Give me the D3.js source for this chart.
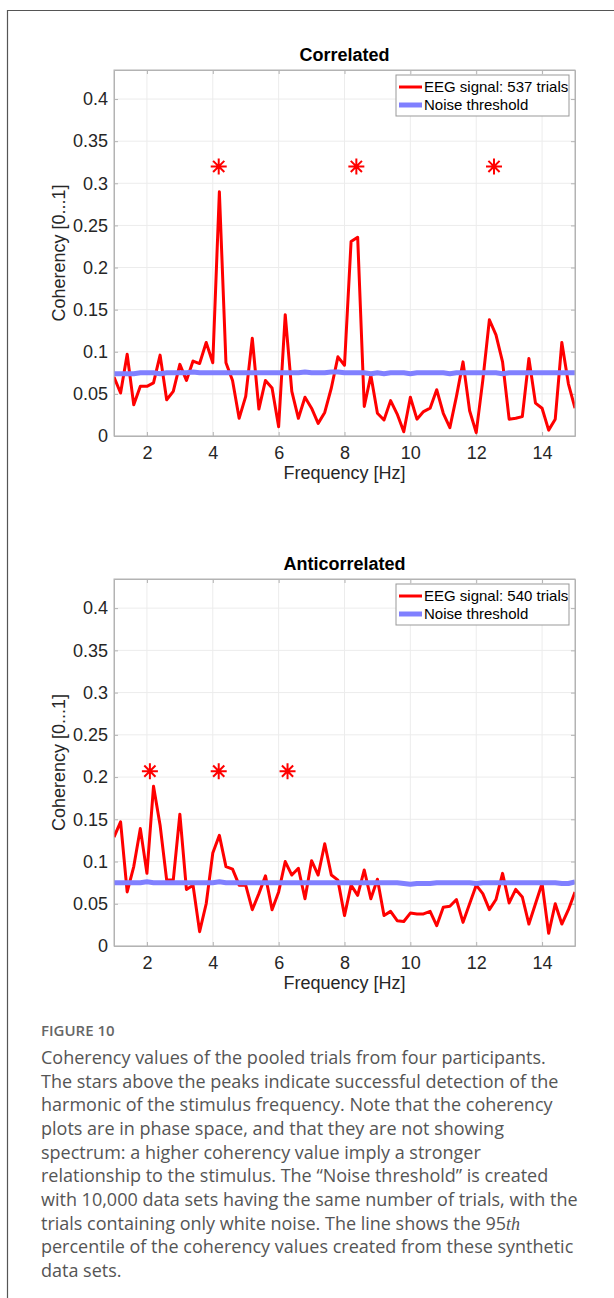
<!DOCTYPE html>
<html>
<head>
<meta charset="utf-8">
<script src="https://cdn.jsdelivr.net/npm/d3@7"></script>
<style>
  body { margin: 0; background: #fff; }
  svg { display: block; }
  .axis text { font-family: "Liberation Sans", Arial, sans-serif; font-size: 18px; fill: #262626; }
  .axis path, .axis line { stroke: #b3b3b3; }
</style>
</head>
<body>
<script>
// frequency bins (Hz)
const freqs = [
  1.0, 1.2, 1.4, 1.6, 1.8, 2.0, 2.2, 2.4, 2.6, 2.8,
  3.0, 3.2, 3.4, 3.6, 3.8, 4.0, 4.2, 4.4, 4.6, 4.8,
  5.0, 5.2, 5.4, 5.6, 5.8, 6.0, 6.2, 6.4, 6.6, 6.8,
  7.0, 7.2, 7.4, 7.6, 7.8, 8.0, 8.2, 8.4, 8.6, 8.8,
  9.0, 9.2, 9.4, 9.6, 9.8, 10.0, 10.2, 10.4, 10.6, 10.8,
  11.0, 11.2, 11.4, 11.6, 11.8, 12.0, 12.2, 12.4, 12.6, 12.8,
  13.0, 13.2, 13.4, 13.6, 13.8, 14.0, 14.2, 14.4, 14.6, 14.8,
  15.0
];

const eegCorr = [
  0.070, 0.051, 0.097, 0.037, 0.059, 0.059, 0.063, 0.096, 0.043, 0.053,
  0.085, 0.066, 0.089, 0.086, 0.111, 0.087, 0.290, 0.087, 0.066, 0.021,
  0.047, 0.116, 0.032, 0.066, 0.057, 0.011, 0.144, 0.053, 0.021, 0.046,
  0.033, 0.015, 0.028, 0.057, 0.094, 0.084, 0.231, 0.236, 0.035, 0.072,
  0.027, 0.019, 0.042, 0.026, 0.005, 0.046, 0.020, 0.029, 0.033, 0.055,
  0.027, 0.010, 0.047, 0.088, 0.030, 0.004, 0.066, 0.138, 0.120, 0.088,
  0.020, 0.021, 0.023, 0.092, 0.039, 0.033, 0.007, 0.020, 0.111, 0.062,
  0.033
];

const noiseCorr = [
  0.074, 0.074, 0.074, 0.074, 0.075, 0.075, 0.075, 0.074, 0.075, 0.075,
  0.075, 0.075, 0.076, 0.075, 0.075, 0.075, 0.075, 0.075, 0.075, 0.075,
  0.075, 0.075, 0.075, 0.075, 0.075, 0.075, 0.075, 0.075, 0.075, 0.076,
  0.075, 0.075, 0.075, 0.076, 0.076, 0.075, 0.075, 0.075, 0.075, 0.074,
  0.075, 0.074, 0.075, 0.075, 0.075, 0.074, 0.075, 0.075, 0.075, 0.075,
  0.075, 0.074, 0.075, 0.075, 0.075, 0.075, 0.075, 0.075, 0.075, 0.074,
  0.075, 0.075, 0.075, 0.075, 0.075, 0.075, 0.075, 0.075, 0.075, 0.075,
  0.075
];

const eegAnti = [
  0.129, 0.147, 0.064, 0.094, 0.139, 0.086, 0.189, 0.143, 0.078, 0.078,
  0.156, 0.067, 0.072, 0.017, 0.050, 0.110, 0.131, 0.094, 0.091, 0.072,
  0.072, 0.043, 0.062, 0.083, 0.043, 0.064, 0.100, 0.084, 0.092, 0.056,
  0.101, 0.084, 0.121, 0.084, 0.078, 0.036, 0.072, 0.060, 0.090, 0.056,
  0.079, 0.036, 0.041, 0.030, 0.029, 0.039, 0.038, 0.038, 0.041, 0.024,
  0.046, 0.047, 0.055, 0.028, 0.050, 0.072, 0.062, 0.043, 0.055, 0.086,
  0.051, 0.067, 0.058, 0.026, 0.050, 0.074, 0.015, 0.050, 0.026, 0.043,
  0.064
];

const noiseAnti = [
  0.075, 0.075, 0.075, 0.075, 0.075, 0.076, 0.075, 0.075, 0.075, 0.075,
  0.075, 0.075, 0.075, 0.075, 0.075, 0.075, 0.076, 0.075, 0.075, 0.075,
  0.075, 0.075, 0.075, 0.075, 0.075, 0.075, 0.075, 0.075, 0.075, 0.075,
  0.075, 0.075, 0.075, 0.075, 0.075, 0.075, 0.075, 0.075, 0.075, 0.075,
  0.075, 0.075, 0.075, 0.075, 0.074, 0.073, 0.074, 0.074, 0.074, 0.075,
  0.075, 0.075, 0.075, 0.075, 0.075, 0.074, 0.075, 0.075, 0.075, 0.075,
  0.075, 0.075, 0.075, 0.075, 0.075, 0.075, 0.075, 0.075, 0.074, 0.074,
  0.076
];

// detected harmonics (stars)
const starsCorr = [4.18, 8.36, 12.54];
const starsAnti = [2.09, 4.18, 6.27];
const starLevelCorr = 0.32;
const starLevelAnti = 0.207;

const xTicks = [2, 4, 6, 8, 10, 12, 14];
const yTicks = [0, 0.05, 0.1, 0.15, 0.2, 0.25, 0.3, 0.35, 0.4];

const caption = [
  "Coherency values of the pooled trials from four participants.",
  "The stars above the peaks indicate successful detection of the",
  "harmonic of the stimulus frequency. Note that the coherency",
  "plots are in phase space, and that they are not showing",
  "spectrum: a higher coherency value imply a stronger",
  "relationship to the stimulus. The \u201cNoise threshold\u201d is created",
  "with 10,000 data sets having the same number of trials, with the",
  "trials containing only white noise. The line shows the 95",
  "percentile of the coherency values created from these synthetic",
  "data sets."
];

const W = 614, H = 1298;
const svg = d3.select("body").append("svg")
  .attr("width", W)
  .attr("height", H);

// page frame (left + top rule)
svg.append("path")
  .attr("d", `M7.5,${H} V10.5 H${W}`)
  .attr("fill", "none")
  .attr("stroke", "#555")
  .attr("stroke-width", 1.2);

function drawPanel(p) {
  const left = 114, right = 575;
  const x = d3.scaleLinear().domain([1, 15]).range([left, right]);
  const y = d3.scaleLinear().domain([0, 0.4345]).range([p.bottom, p.top]);
  const g = svg.append("g");

  // grid
  g.append("g").selectAll("line").data(xTicks).join("line")
    .attr("x1", d => x(d)).attr("x2", d => x(d))
    .attr("y1", p.top).attr("y2", p.bottom)
    .attr("stroke", "#ececec");
  g.append("g").selectAll("line").data(yTicks).join("line")
    .attr("x1", left).attr("x2", right)
    .attr("y1", d => y(d)).attr("y2", d => y(d))
    .attr("stroke", "#ececec");

  // axes, ticks pointing inward
  g.append("g").attr("class", "axis")
    .attr("transform", `translate(0,${p.bottom})`)
    .call(d3.axisBottom(x).tickValues(xTicks).tickSizeInner(-4).tickSizeOuter(0).tickPadding(10))
    .call(a => a.selectAll("text").attr("dy", "0.71em"));
  g.append("g").attr("class", "axis")
    .attr("transform", `translate(0,${p.top})`)
    .call(d3.axisTop(x).tickValues(xTicks).tickSizeInner(-4).tickSizeOuter(0).tickFormat(""));
  g.append("g").attr("class", "axis")
    .attr("transform", `translate(${left},0)`)
    .call(d3.axisLeft(y).tickValues(yTicks).tickSizeInner(-4).tickSizeOuter(0).tickPadding(6).tickFormat(d3.format("")));
  g.append("g").attr("class", "axis")
    .attr("transform", `translate(${right},0)`)
    .call(d3.axisRight(y).tickValues(yTicks).tickSizeInner(-4).tickSizeOuter(0).tickFormat(""));

  const pts = (vals) => freqs.map((f, i) => ({ f, v: vals[i] }));
  const line = d3.line().x(d => x(d.f)).y(d => y(d.v));

  const clip = "clip" + p.top;
  g.append("clipPath").attr("id", clip).append("rect")
    .attr("x", left).attr("y", p.top).attr("width", right - left).attr("height", p.bottom - p.top);

  const plot = g.append("g").attr("clip-path", `url(#${clip})`);
  plot.append("path").datum(pts(p.eeg))
    .attr("d", line).attr("fill", "none")
    .attr("stroke", "#ff0000").attr("stroke-width", 3).attr("stroke-linejoin", "round");
  plot.append("path").datum(pts(p.noise))
    .attr("d", line).attr("fill", "none")
    .attr("stroke", "#8080ff").attr("stroke-width", 5).attr("stroke-linejoin", "round");

  // asterisk markers
  const r = 8;
  const star = `M${-r},0H${r}M0,${-r}V${r}M${-r * 0.7},${-r * 0.7}L${r * 0.7},${r * 0.7}M${-r * 0.7},${r * 0.7}L${r * 0.7},${-r * 0.7}`;
  g.append("g").selectAll("path").data(p.stars).join("path")
    .attr("transform", d => `translate(${x(d)},${y(p.starLevel)})`)
    .attr("d", star)
    .attr("stroke", "#ff0000").attr("stroke-width", 2).attr("fill", "none");

  // box
  g.append("rect")
    .attr("x", left).attr("y", p.top).attr("width", right - left).attr("height", p.bottom - p.top)
    .attr("fill", "none").attr("stroke", "#b3b3b3");

  // title and axis labels
  g.append("text")
    .attr("x", (left + right) / 2).attr("y", p.top - 9)
    .attr("text-anchor", "middle")
    .style("font-family", "Liberation Sans, Arial, sans-serif")
    .style("font-size", "18px").style("font-weight", "bold")
    .attr("fill", "#000")
    .text(p.title);
  g.append("text")
    .attr("x", (left + right) / 2).attr("y", p.bottom + 43)
    .attr("text-anchor", "middle")
    .style("font-family", "Liberation Sans, Arial, sans-serif")
    .style("font-size", "18px").attr("fill", "#262626")
    .text("Frequency [Hz]");
  g.append("text")
    .attr("transform", `translate(65,${(p.top + p.bottom) / 2}) rotate(-90)`)
    .attr("text-anchor", "middle")
    .style("font-family", "Liberation Sans, Arial, sans-serif")
    .style("font-size", "18px").attr("fill", "#262626")
    .text("Coherency [0...1]");

  // legend
  const lg = g.append("g").attr("transform", `translate(396,${p.top + 5})`);
  lg.append("rect").attr("width", 173).attr("height", 41)
    .attr("fill", "#fff").attr("stroke", "#999");
  const items = [
    { label: p.legend, color: "#ff0000", w: 3, dy: 12 },
    { label: "Noise threshold", color: "#8080ff", w: 5, dy: 30 }
  ];
  items.forEach(it => {
    lg.append("line").attr("x1", 3).attr("x2", 26).attr("y1", it.dy).attr("y2", it.dy)
      .attr("stroke", it.color).attr("stroke-width", it.w);
    lg.append("text").attr("x", 28).attr("y", it.dy + 5)
      .style("font-family", "Liberation Sans, Arial, sans-serif")
      .style("font-size", "15px").attr("fill", "#000")
      .text(it.label);
  });
}

drawPanel({
  title: "Correlated", top: 70, bottom: 436,
  eeg: eegCorr, noise: noiseCorr, legend: "EEG signal: 537 trials",
  stars: starsCorr, starLevel: starLevelCorr
});
drawPanel({
  title: "Anticorrelated", top: 579, bottom: 946,
  eeg: eegAnti, noise: noiseAnti, legend: "EEG signal: 540 trials",
  stars: starsAnti, starLevel: starLevelAnti
});

// caption
svg.append("text")
  .attr("x", 41).attr("y", 1036)
  .style("font-family", "Open Sans, sans-serif")
  .style("font-size", "15px").style("font-weight", "600")
  .attr("fill", "#666")
  .text("FIGURE 10");

const cap = svg.append("g")
  .style("font-family", "Open Sans, sans-serif")
  .style("font-size", "18px")
  .attr("fill", "#555");
caption.forEach((t, i) => {
  const tx = cap.append("text").attr("x", 41).attr("y", 1064 + i * 23.67).text(t);
  if (i === 7) {
    tx.append("tspan")
      .style("font-family", "Liberation Serif, serif")
      .style("font-style", "italic")
      .text("th");
  }
});
</script>
</body>
</html>
